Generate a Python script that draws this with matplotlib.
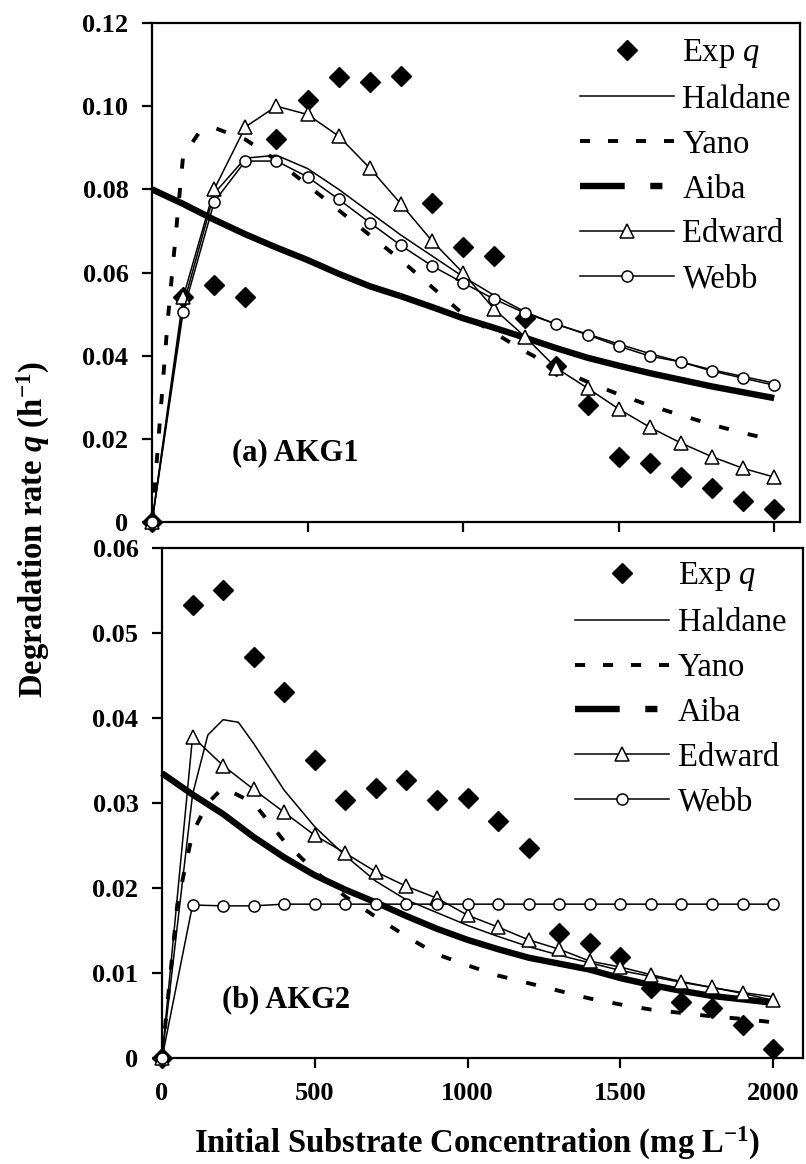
import numpy as np
import matplotlib.pyplot as plt
from matplotlib.lines import Line2D
from matplotlib.ticker import FixedLocator, FuncFormatter

plt.rcParams['font.family'] = ['Liberation Serif', 'DejaVu Serif']
plt.rcParams['mathtext.fontset'] = 'custom'
plt.rcParams['mathtext.rm'] = 'Liberation Serif'
plt.rcParams['mathtext.it'] = 'Liberation Serif:italic'
plt.rcParams['mathtext.bf'] = 'Liberation Serif:bold'
plt.rcParams['mathtext.bfit'] = 'Liberation Serif:bold:italic'

# substrate concentration (mg/L)
conc = np.arange(0, 2001, 100)
conc_yano = np.array([0, 50, 100, 150, 200] + list(range(300, 2001, 100)))
conc_hald_b = np.array([0, 100, 150, 200, 250, 300] + list(range(400, 2001, 100)))

# (a) AKG1
exp_a = [0, 0.054, 0.057, 0.054, 0.092, 0.1015, 0.107, 0.1058, 0.1073, 0.0767, 0.0662,
         0.064, 0.049, 0.0375, 0.0281, 0.0156, 0.0142, 0.0108, 0.0082, 0.005, 0.0031]
haldane_a = [0, 0.052, 0.079, 0.0875, 0.0882, 0.085, 0.080, 0.0745, 0.069, 0.064, 0.059,
             0.0545, 0.0505, 0.0475, 0.0452, 0.0428, 0.0405, 0.0385, 0.0366, 0.035, 0.0334]
yano_a = [0, 0.048, 0.088, 0.0935, 0.0948, 0.092, 0.087, 0.081, 0.075, 0.069, 0.063, 0.0565,
          0.050, 0.0455, 0.041, 0.037, 0.0337, 0.0307, 0.028, 0.0257, 0.0234, 0.0214, 0.0197]
aiba_a = [0.080, 0.0765, 0.0727, 0.0692, 0.066, 0.063, 0.0597, 0.0567, 0.0543, 0.0517, 0.049,
          0.0467, 0.0443, 0.0418, 0.0395, 0.0376, 0.0358, 0.0342, 0.0326, 0.0312, 0.0298]
edward_a = [0, 0.054, 0.080, 0.095, 0.100, 0.098, 0.0928, 0.0851, 0.0765, 0.0676, 0.0599,
            0.0512, 0.0445, 0.037, 0.0322, 0.0272, 0.0228, 0.019, 0.0157, 0.0129, 0.0108]
webb_a = [0, 0.0505, 0.077, 0.0868, 0.0868, 0.083, 0.0776, 0.072, 0.0665, 0.0616, 0.0575,
          0.0536, 0.0502, 0.0476, 0.045, 0.0423, 0.0399, 0.0385, 0.0363, 0.0346, 0.0329]

# (b) AKG2
exp_b = [0, 0.0533, 0.0551, 0.0472, 0.0431, 0.0351, 0.0304, 0.0318, 0.0327, 0.0303, 0.0306,
         0.0279, 0.0247, 0.0147, 0.0135, 0.0119, 0.0082, 0.0066, 0.0059, 0.0039, 0.0011]
haldane_b = [0, 0.031, 0.038, 0.0398, 0.0395, 0.037, 0.0315, 0.0272, 0.0238, 0.0208, 0.0186,
             0.0171, 0.0156, 0.0143, 0.0131, 0.0121, 0.0112, 0.0103, 0.0096, 0.0089, 0.0083,
             0.0077, 0.0072]
yano_b = [0, 0.018, 0.0265, 0.030, 0.0318, 0.030, 0.0255, 0.022, 0.019, 0.0166, 0.0143, 0.0122,
          0.0109, 0.0097, 0.0088, 0.0079, 0.0070, 0.0063, 0.0057, 0.0053, 0.0049, 0.0046, 0.0042]
aiba_b = [0.0335, 0.031, 0.0287, 0.026, 0.0236, 0.0215, 0.0198, 0.0183, 0.0167, 0.0152, 0.0139,
          0.0128, 0.0118, 0.0111, 0.0104, 0.0094, 0.0086, 0.0079, 0.0073, 0.0069, 0.0065]
edward_b = [0, 0.0378, 0.0344, 0.0316, 0.0289, 0.0262, 0.0241, 0.0219, 0.0202, 0.0188, 0.0168,
            0.0154, 0.0139, 0.0128, 0.0114, 0.0107, 0.0098, 0.0090, 0.0083, 0.0076, 0.0068]
webb_b = [0, 0.0180, 0.0179, 0.0179] + [0.0181] * 17

labels = ['Exp $q$', 'Haldane', 'Yano', 'Aiba', 'Edward', 'Webb']

# styles
exp_kw = dict(ls='none', marker='D', ms=10, color='k')
thin_kw = dict(color='k', lw=1.1)
yano_kw = dict(color='k', lw=2.8, dashes=(2.6, 5))
aiba_kw = dict(color='k', lw=4.6, solid_capstyle='butt')
edw_kw = dict(color='k', lw=1.1, marker='^', ms=10, mfc='white', mec='k', mew=1.1)
webb_kw = dict(color='k', lw=1.1, marker='o', ms=8, mfc='white', mec='k', mew=1.1)

fig = plt.figure(figsize=(8.06, 11.64), dpi=100)
ax1 = fig.add_axes([152 / 806, 1 - 522 / 1164, 648 / 806, 499 / 1164])
ax2 = fig.add_axes([162 / 806, 1 - 1058 / 1164, 641 / 806, 510 / 1164])


def draw(ax, exp, hal, x_hal, yano, aiba, edw, webb):
    ax.plot(conc, exp, clip_on=False, zorder=3, **exp_kw)
    ax.plot(x_hal, hal, clip_on=False, zorder=3, **thin_kw)
    ax.plot(conc_yano, yano, clip_on=False, zorder=3, **yano_kw)
    ax.plot(conc, aiba, clip_on=False, zorder=3, **aiba_kw)
    ax.plot(conc, edw, clip_on=False, zorder=3, **edw_kw)
    ax.plot(conc, webb, clip_on=False, zorder=3, **webb_kw)


draw(ax1, exp_a, haldane_a, conc, yano_a, aiba_a, edward_a, webb_a)
draw(ax2, exp_b, haldane_b, conc_hald_b, yano_b, aiba_b, edward_b, webb_b)

fmt = FuncFormatter(lambda v, p: '0' if abs(v) < 1e-9 else f'{v:.2f}')
for ax, ymax, step in [(ax1, 0.12, 0.02), (ax2, 0.06, 0.01)]:
    ax.set_ylim(0, ymax)
    ax.yaxis.set_major_locator(FixedLocator(np.round(np.arange(0, ymax + 1e-9, step), 2)))
    ax.yaxis.set_major_formatter(fmt)
    ax.xaxis.set_major_locator(FixedLocator([0, 500, 1000, 1500, 2000]))
    for s in ax.spines.values():
        s.set_linewidth(1.6)
    ax.tick_params(direction='out', length=7, width=1.6, pad=10, labelsize=19)
    for t in ax.get_yticklabels() + ax.get_xticklabels():
        t.set_fontweight('bold')

ax1.set_xlim(0, 2083)
ax2.set_xlim(0, 2098)
ax1.tick_params(axis='x', labelbottom=False)

ax1.text(257, 0.0166, '(a) AKG1', fontsize=22, fontweight='bold', va='center')
ax2.text(196, 0.0068, '(b) AKG2', fontsize=22, fontweight='bold', va='center')

handles = [
    Line2D([], [], **exp_kw),
    Line2D([], [], **thin_kw),
    Line2D([], [], color='k', lw=2.8, dashes=(2.6, 4.6)),
    Line2D([], [], color='k', lw=4.6, dashes=(7, 4, 1.9, 4)),
    Line2D([], [], **edw_kw),
    Line2D([], [], **webb_kw),
]
for ax, anchor in [(ax1, (0.660, 0.972)), (ax2, (0.644, 0.976))]:
    ax.legend(handles, labels, loc='upper left', bbox_to_anchor=anchor,
              frameon=False, fontsize=23.5, handlelength=2.9, handletextpad=0.25,
              labelspacing=0.44, borderpad=0, borderaxespad=0, numpoints=1)

fig.text(0.042, 1 - 530 / 1164, r'Degradation rate $\mathbfit{q}$ (h$^{\mathbf{-1}}$)',
         rotation=90, ha='center', va='center', fontsize=23.5, fontweight='bold')
fig.text(477 / 806, 1 - 1143 / 1164,
         r'Initial Substrate Concentration (mg L$^{\mathbf{-1}}$)',
         ha='center', va='center', fontsize=23.5, fontweight='bold')

fig.savefig('out.png', dpi=100)
